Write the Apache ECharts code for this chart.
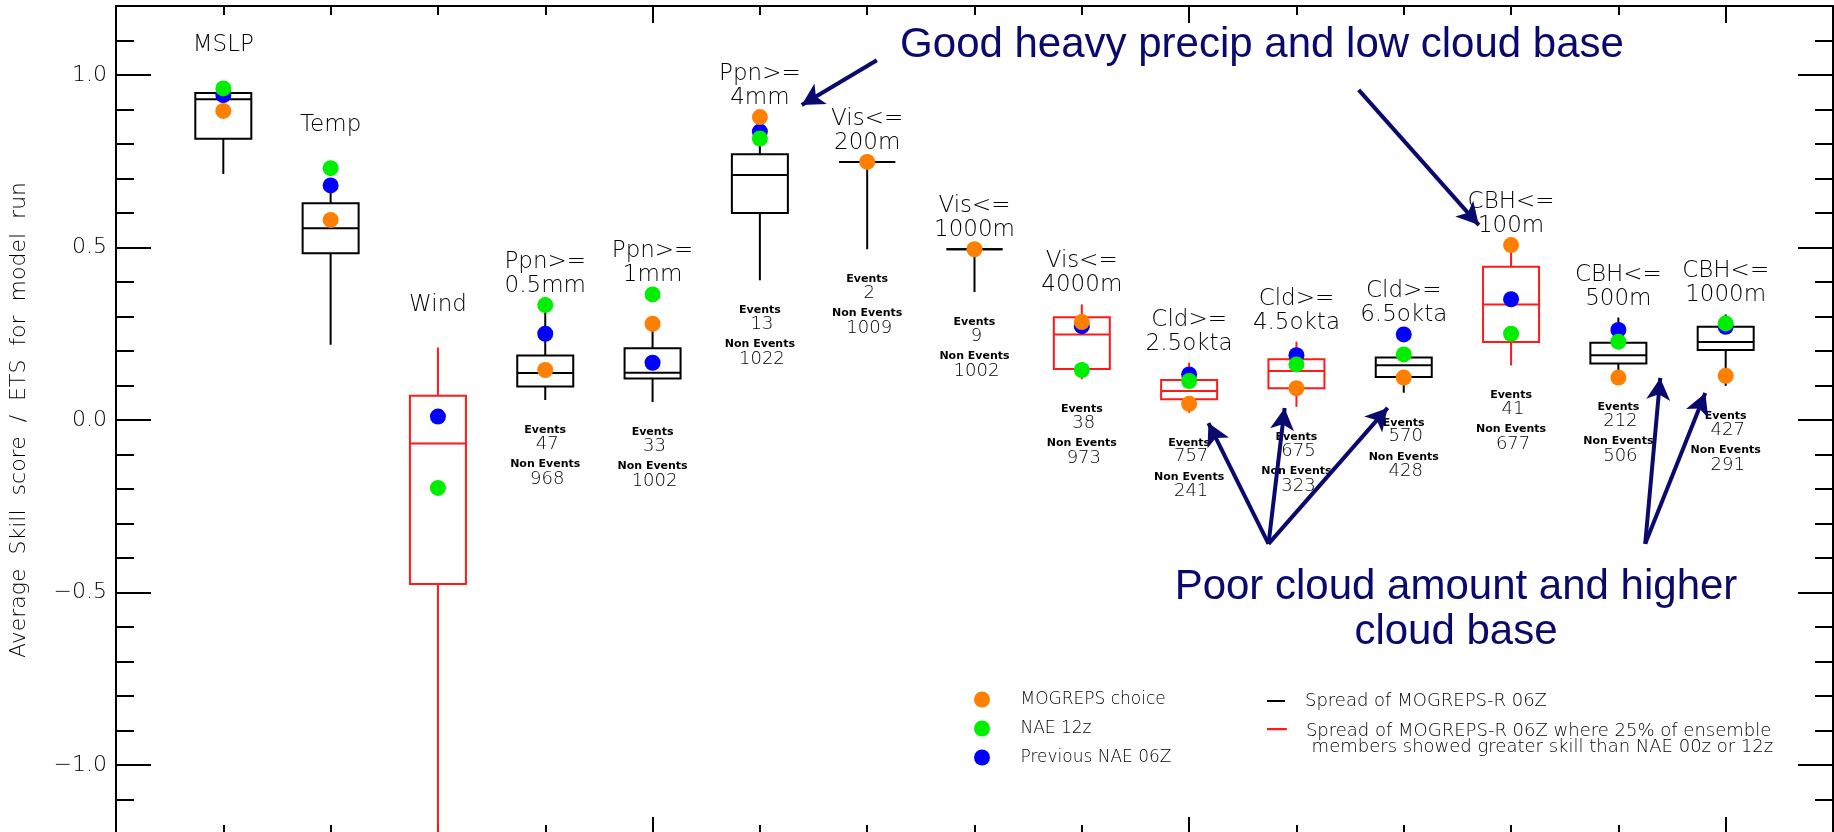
<!DOCTYPE html>
<html>
<head>
<meta charset="utf-8">
<script src="https://cdn.jsdelivr.net/npm/echarts@6/dist/echarts.min.js"></script>
<style>
html,body{margin:0;padding:0;background:#fff;overflow:hidden;}
#c{width:1834px;height:840px;}
</style>
</head>
<body>
<div id="c"></div>
<script>
// ---------- data ----------
const categories = ['MSLP','Temp','Wind','Ppn>=\n0.5mm','Ppn>=\n1mm','Ppn>=\n4mm','Vis<=\n200m','Vis<=\n1000m','Vis<=\n4000m','Cld>=\n2.5okta','Cld>=\n4.5okta','Cld>=\n6.5okta','CBH<=\n100m','CBH<=\n500m','CBH<=\n1000m'];
const whiskerLow  = [0.713, 0.218, -1.40, 0.058, 0.052, 0.405, 0.495, 0.371, 0.118, 0.021, 0.038, 0.079, 0.158, 0.133, 0.099];
const quartile1   = [0.815, 0.483, -0.475, 0.097, 0.120, 0.600, 0.748, 0.495, 0.148, 0.060, 0.092, 0.125, 0.226, 0.164, 0.203];
const medianVal   = [0.930, 0.556, -0.068, 0.136, 0.137, 0.710, 0.748, 0.495, 0.248, 0.084, 0.142, 0.159, 0.335, 0.188, 0.226];
const quartile3   = [0.948, 0.628, 0.070, 0.187, 0.208, 0.770, 0.748, 0.495, 0.298, 0.116, 0.176, 0.181, 0.444, 0.224, 0.270];
const whiskerHigh = [0.950, 0.670, 0.210, 0.320, 0.270, 0.800, 0.748, 0.495, 0.335, 0.166, 0.227, 0.210, 0.500, 0.297, 0.306];
const betterThanNAE = [0,0,1,0,0,0,0,0,1,1,1,0,1,0,0];
const mogrepsChoice = [0.896, 0.580, null, 0.145, 0.279, 0.878, 0.748, 0.495, 0.284, 0.047, 0.092, 0.123, 0.507, 0.123, 0.128];
const nae12z        = [0.961, 0.730, -0.197, 0.333, 0.364, 0.816, null, null, 0.145, 0.113, 0.161, 0.190, 0.250, 0.227, 0.280];
const prevNae06z    = [0.942, 0.680, 0.010, 0.250, 0.166, 0.836, null, null, 0.272, 0.132, 0.188, 0.248, 0.350, 0.261, 0.270];
const eventsCount    = [null, null, null, 47, 33, 13, 2, 9, 38, 757, 675, 570, 41, 212, 427];
const nonEventsCount = [null, null, null, 968, 1002, 1022, 1009, 1002, 973, 241, 323, 428, 677, 506, 291];
const yMajorTicks = [-1.0, -0.5, 0.0, 0.5, 1.0];
const yMinorTicks = [-1.1,-0.9,-0.8,-0.7,-0.6,-0.4,-0.3,-0.2,-0.1,0.1,0.2,0.3,0.4,0.6,0.7,0.8,0.9,1.1];
const xMinorTicks = [1,2,3,4,6,7,8,9,11,12,13,14];
const xMajorTicks = [5,10,15];
// annotation arrows in data coordinates [x1,y1,x2,y2]
const arrowsGood = [[7.09, 1.043, 6.39, 0.913], [11.58, 0.957, 12.70, 0.565]];
const arrowsPoor = [[10.74, -0.359, 10.18, -0.009], [10.74, -0.359, 10.89, 0.035], [10.74, -0.359, 11.85, 0.035],
                    [14.25, -0.359, 14.39, 0.122], [14.25, -0.359, 14.81, 0.078]];

// ---------- build ----------
const FONT = 'DejaVu Sans';
const NAVY = '#0a0a6e';
const TXT = '#000';
const blackName = 'Spread of MOGREPS-R 06Z';
const redName = 'Spread of MOGREPS-R 06Z where 25% of ensemble\n members showed greater skill than NAE 00z or 12z';

function boxData(flag) {
  const out = [];
  categories.forEach((c, i) => {
    if (betterThanNAE[i] === flag) out.push([i + 1, whiskerLow[i], quartile1[i], medianVal[i], quartile3[i], whiskerHigh[i]]);
  });
  return out;
}
function dotData(arr) {
  const out = [];
  arr.forEach((v, i) => { if (v !== null) out.push([i + 1, v]); });
  return out;
}
function renderBox(color) {
  return function (params, api) {
    const x = api.value(0);
    const pl = api.coord([x, api.value(1)]);
    const p1 = api.coord([x, api.value(2)]);
    const pm = api.coord([x, api.value(3)]);
    const p3 = api.coord([x, api.value(4)]);
    const ph = api.coord([x, api.value(5)]);
    const hw = 28;
    const st = { stroke: color, lineWidth: 2, fill: null };
    return {
      type: 'group',
      children: [
        { type: 'line', shape: { x1: pl[0], y1: pl[1], x2: p1[0], y2: p1[1] }, style: st },
        { type: 'line', shape: { x1: p3[0], y1: p3[1], x2: ph[0], y2: ph[1] }, style: st },
        { type: 'rect', shape: { x: p3[0] - hw, y: p3[1], width: 2 * hw, height: p1[1] - p3[1] }, style: st },
        { type: 'line', shape: { x1: pm[0] - hw, y1: pm[1], x2: pm[0] + hw, y2: pm[1] }, style: st }
      ]
    };
  };
}
function renderLabels(params, api) {
  const i = api.value(1);
  const x = api.value(0);
  const vals = [whiskerHigh[i], mogrepsChoice[i], nae12z[i], prevNae06z[i]].filter(v => v !== null);
  const lows = [whiskerLow[i], mogrepsChoice[i], nae12z[i], prevNae06z[i]].filter(v => v !== null);
  const top = api.coord([x, Math.max.apply(null, vals)]);
  const bot = api.coord([x, Math.min.apply(null, lows)]);
  const name = categories[i];
  const two = name.indexOf('\n') >= 0;
  const children = [{
    type: 'text', x: top[0], y: two ? top[1] - 31 : top[1] - 43,
    style: { text: name, fontFamily: FONT, fontWeight: 200, fontSize: 23, lineHeight: 24, fill: TXT, align: 'center', verticalAlign: 'middle' }
  }];
  if (eventsCount[i] !== null) {
    const b = bot[1];
    const small = { fontFamily: FONT, fontWeight: 'bold', fontSize: 11, fill: TXT, align: 'center', verticalAlign: 'middle' };
    const big = { fontFamily: FONT, fontWeight: 200, fontSize: 18, fill: TXT, align: 'center', verticalAlign: 'middle' };
    children.push({ type: 'text', x: bot[0], y: b + 30, style: Object.assign({ text: 'Events' }, small) });
    children.push({ type: 'text', x: bot[0] + 2, y: b + 44, style: Object.assign({ text: String(eventsCount[i]) }, big) });
    children.push({ type: 'text', x: bot[0], y: b + 64, style: Object.assign({ text: 'Non Events' }, small) });
    children.push({ type: 'text', x: bot[0] + 2, y: b + 79, style: Object.assign({ text: String(nonEventsCount[i]) }, big) });
  }
  return { type: 'group', children: children };
}
function arrowLines(list) {
  return list.map(a => [{ coord: [a[0], a[1]] }, { coord: [a[2], a[3]] }]);
}

const axisLineStyle = { color: '#000', width: 2 };
function xAx(pos, ticks, len, showLine) {
  return {
    type: 'value', min: 0, max: 16, position: pos,
    axisLine: { show: showLine, onZero: false, lineStyle: axisLineStyle },
    axisTick: { show: true, inside: true, length: len, customValues: ticks, lineStyle: axisLineStyle },
    axisLabel: { show: false }, splitLine: { show: false }
  };
}
function yAx(pos, ticks, len, showLine, withLabels) {
  const a = {
    type: 'value', min: -1.2, max: 1.2, position: pos,
    axisLine: { show: showLine, onZero: false, lineStyle: axisLineStyle },
    axisTick: { show: true, inside: true, length: len, customValues: ticks, lineStyle: axisLineStyle },
    axisLabel: { show: false }, splitLine: { show: false }
  };
  if (withLabels) {
    a.axisLabel = {
      show: true, customValues: yMajorTicks, margin: 9, fontFamily: FONT, fontWeight: 200, fontSize: 22, color: TXT,
      formatter: v => (v < 0 ? '\u2212' : '') + Math.abs(v).toFixed(1)
    };
    a.name = 'Average  Skill  score  /  ETS  for  model  run';
    a.nameLocation = 'middle';
    a.nameGap = 86;
    a.nameTextStyle = { fontFamily: FONT, fontWeight: 200, fontSize: 22, color: TXT };
  }
  return a;
}

const chart = echarts.init(document.getElementById('c'), null, { renderer: 'canvas' });
chart.setOption({
  animation: false,
  backgroundColor: '#fff',
  grid: { left: 112, right: 1, top: 6, bottom: 6, containLabel: false },
  xAxis: [
    xAx('bottom', xMinorTicks, 9, true),
    xAx('bottom', xMajorTicks, 17, false),
    xAx('top', xMinorTicks, 9, true),
    xAx('top', xMajorTicks, 17, false)
  ],
  yAxis: [
    yAx('left', yMajorTicks, 35, true, true),
    yAx('left', yMinorTicks, 18, false, false),
    yAx('right', yMajorTicks, 35, true, false),
    yAx('right', yMinorTicks, 18, false, false)
  ],
  legend: [
    {
      orient: 'vertical', left: 969, top: 686, itemWidth: 67, itemHeight: 16, itemGap: 12, selectedMode: false,
      textStyle: { fontFamily: FONT, fontWeight: 200, fontSize: 17, color: TXT },
      data: [{ name: 'MOGREPS choice', icon: 'circle' }, { name: 'NAE 12z', icon: 'circle' }, { name: 'Previous NAE 06Z', icon: 'circle' }]
    },
    {
      orient: 'vertical', left: 1262, top: 687, itemWidth: 48, itemHeight: 2, selectedMode: false,
      itemStyle: { borderWidth: 0 },
      textStyle: { fontFamily: FONT, fontWeight: 200, fontSize: 18, color: TXT },
      data: [{ name: blackName, icon: 'path://M0,0H18V2H0Z' }]
    },
    {
      orient: 'vertical', left: 1262, top: 717, itemWidth: 48, itemHeight: 22, selectedMode: false,
      itemStyle: { borderWidth: 0 },
      textStyle: { fontFamily: FONT, fontWeight: 200, fontSize: 18, color: TXT, lineHeight: 16 },
      data: [{ name: redName, icon: 'path://M0,0H18V2H0Z M0,20H0.01V20.01H0Z' }]
    }
  ],
  graphic: [
    { type: 'text', x: 1262, y: 45, silent: true,
      style: { text: 'Good heavy precip and low cloud base', fontFamily: 'Liberation Sans', fontSize: 42, fill: NAVY, align: 'center', verticalAlign: 'middle' } },
    { type: 'text', x: 1456, y: 610, silent: true,
      style: { text: 'Poor cloud amount and higher\ncloud base', fontFamily: 'Liberation Sans', fontSize: 42, lineHeight: 45, fill: NAVY, align: 'center', verticalAlign: 'middle' } }
  ],
  series: [
    { name: blackName, type: 'custom', clip: true, itemStyle: { color: '#000' }, renderItem: renderBox('#000'),
      data: boxData(0), encode: { x: 0, y: [1, 2, 3, 4, 5] }, z: 2 },
    { name: redName, type: 'custom', clip: true, itemStyle: { color: '#ff1a1a' }, renderItem: renderBox('#ff1a1a'),
      data: boxData(1), encode: { x: 0, y: [1, 2, 3, 4, 5] }, z: 2 },
    { name: 'Previous NAE 06Z', type: 'scatter', symbol: 'circle', symbolSize: 16, itemStyle: { color: '#0000ff', opacity: 1 }, data: dotData(prevNae06z), z: 3 },
    { name: 'NAE 12z', type: 'scatter', symbol: 'circle', symbolSize: 16, itemStyle: { color: '#00ee00', opacity: 1 }, data: dotData(nae12z), z: 3 },
    { name: 'MOGREPS choice', type: 'scatter', symbol: 'circle', symbolSize: 16, itemStyle: { color: '#ff7f00', opacity: 1 }, data: dotData(mogrepsChoice), z: 3 },
    { name: 'labels', type: 'custom', clip: false, silent: true, renderItem: renderLabels,
      data: categories.map((c, i) => [i + 1, i]), encode: { x: 0, y: -1 }, z: 4 },
    { name: 'annotations', type: 'scatter', data: [], silent: true, z: 5,
      markLine: {
        silent: true, animation: false, symbol: ['none', 'arrow'], symbolSize: [18, 22],
        label: { show: false }, emphasis: { disabled: true },
        lineStyle: { color: NAVY, width: 4, type: 'solid' },
        data: arrowLines(arrowsGood).concat(arrowLines(arrowsPoor))
      } }
  ]
});
</script>
</body>
</html>
